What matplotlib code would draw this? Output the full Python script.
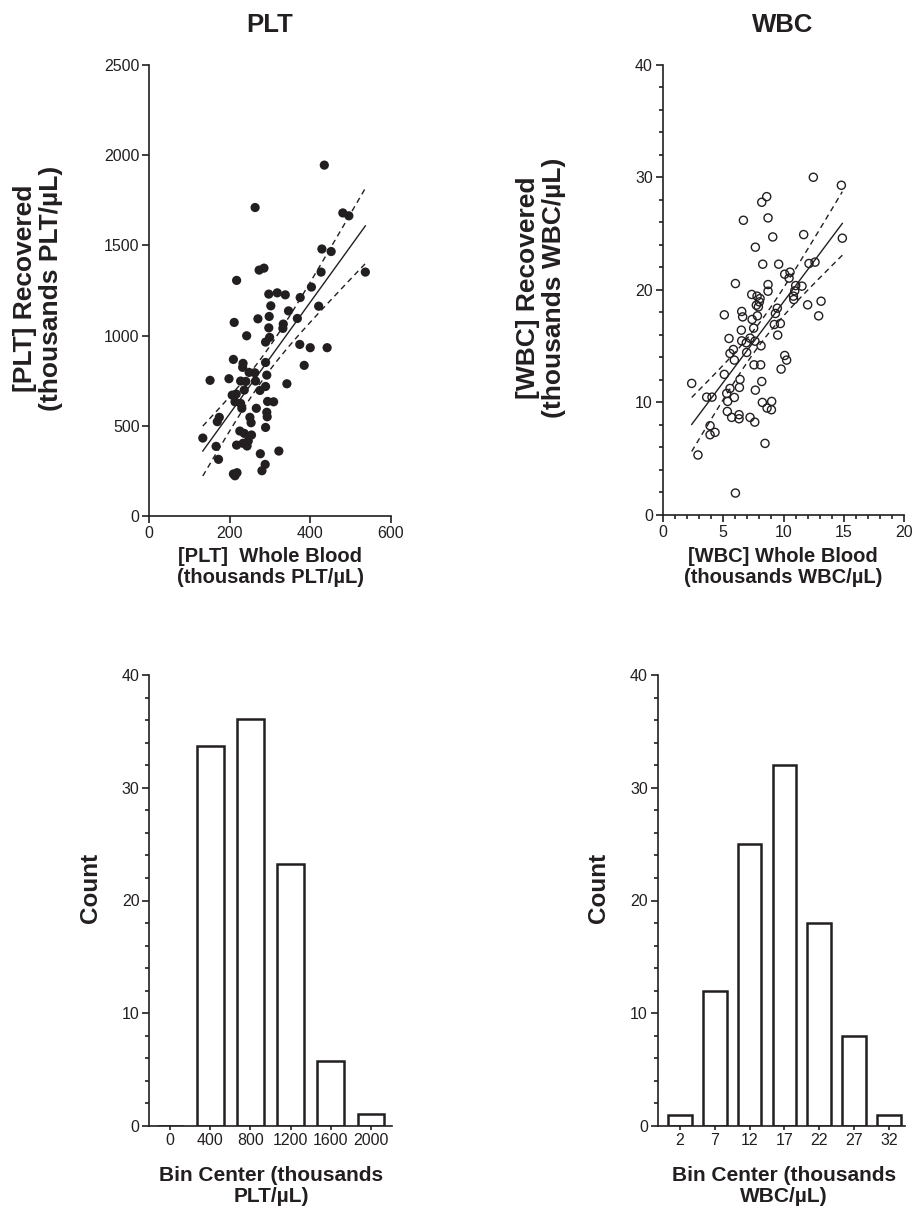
import numpy as np
import matplotlib
matplotlib.use('Agg')
import matplotlib.pyplot as plt
from matplotlib.ticker import MultipleLocator

plt.rcParams['font.family'] = ['Liberation Sans', 'DejaVu Sans']
INK = '#231f20'

# PLT: whole blood vs recovered (thousands/uL)
plt_wb = [435, 263, 481, 496, 429, 452, 537, 427, 273, 285, 217, 403, 297, 318, 338,
          375, 302, 421, 346, 270, 298, 368, 211, 333, 332, 297, 242, 299, 289, 374,
          400, 442, 209, 233, 232, 289, 385, 248, 262, 292, 151, 198, 227, 240, 264,
          289, 342, 206, 216, 236, 275, 213, 227, 230, 294, 309, 266, 292, 293, 174,
          169, 250, 253, 289, 133, 225, 236, 254, 246, 233, 217, 243, 166, 172, 276,
          322, 288, 280, 209, 218, 213]
plt_rec = [1945, 1710, 1680, 1664, 1480, 1466, 1352, 1352, 1363, 1374, 1306, 1269, 1230,
           1237, 1226, 1211, 1165, 1163, 1137, 1093, 1106, 1095, 1073, 1064, 1040, 1043,
           999, 990, 964, 951, 933, 933, 868, 846, 824, 851, 835, 796, 794, 781, 752,
           761, 748, 746, 748, 718, 733, 670, 676, 698, 696, 633, 624, 597, 635, 633,
           597, 575, 550, 547, 523, 547, 517, 491, 432, 471, 458, 449, 416, 403, 393,
           388, 386, 314, 345, 360, 286, 251, 233, 240, 223]

# WBC: whole blood vs recovered
wbc_wb = [12.47, 14.79, 8.61, 8.20, 6.68, 8.72, 9.11, 11.67, 14.87, 7.67, 8.28, 9.60,
          12.11, 12.61, 10.10, 10.54, 10.46, 6.02, 8.72, 8.72, 11.01, 11.53, 10.93, 7.37,
          7.81, 8.06, 8.00, 7.75, 7.92, 10.82, 10.85, 13.11, 12.00, 12.91, 5.10, 6.54,
          6.62, 9.49, 9.33, 7.40, 7.84, 9.24, 9.74, 9.52, 7.53, 6.51, 5.49, 6.54, 6.92,
          7.23, 7.64, 8.14, 5.85, 5.57, 5.93, 6.95, 7.56, 8.11, 10.10, 10.26, 9.80, 5.10,
          2.40, 6.40, 8.20, 5.57, 6.35, 7.67, 5.30, 3.64, 4.08, 5.93, 5.38, 8.25, 9.02,
          8.64, 9.00, 5.35, 5.71, 6.32, 6.32, 7.23, 7.62, 3.92, 3.92, 4.33, 8.47, 2.92,
          6.02]
wbc_rec = [30.0, 29.29, 28.28, 27.78, 26.18, 26.39, 24.70, 24.91, 24.59, 23.79, 22.28,
           22.28, 22.34, 22.46, 21.39, 21.57, 21.04, 20.56, 20.47, 19.88, 20.38, 20.33,
           19.91, 19.59, 19.44, 19.23, 18.93, 18.64, 18.49, 19.44, 19.14, 18.99, 18.67,
           17.69, 17.78, 18.08, 17.60, 18.37, 17.90, 17.37, 17.69, 16.92, 17.01, 15.98,
           16.60, 16.42, 15.68, 15.47, 15.30, 15.71, 15.44, 15.03, 14.70, 14.35, 13.76,
           14.44, 13.34, 13.34, 14.17, 13.76, 12.96, 12.49, 11.69, 12.04, 11.86, 11.24,
           11.33, 11.09, 10.80, 10.47, 10.47, 10.44, 10.09, 10.00, 10.09, 9.50, 9.35,
           9.20, 8.67, 8.91, 8.55, 8.67, 8.25, 7.93, 7.13, 7.34, 6.36, 5.33, 1.95]

# histograms
plt_bins = [0, 400, 800, 1200, 1600, 2000]
plt_counts = [0, 33.7, 36.1, 23.2, 5.8, 1.1]
wbc_bins = [2, 7, 12, 17, 22, 27, 32]
wbc_counts = [1, 12, 25, 32, 18, 8, 1]

W, H = 913, 1211
fig = plt.figure(figsize=(W / 100, H / 100), dpi=100)


def px_axes(x0, y0, x1, y1):
    return fig.add_axes([x0 / W, 1 - y1 / H, (x1 - x0) / W, (y1 - y0) / H])


def style(ax):
    for s in ['top', 'right']:
        ax.spines[s].set_visible(False)
    for s in ['left', 'bottom']:
        ax.spines[s].set_linewidth(1.2)
        ax.spines[s].set_color(INK)
    ax.tick_params(direction='out', length=5, width=1.2, colors=INK, labelsize=11.5, pad=2)
    ax.tick_params(which='minor', direction='out', length=3, width=1.2, colors=INK)


def fit_band(x, y):
    x = np.asarray(x, float)
    y = np.asarray(y, float)
    slope, icpt = np.polyfit(x, y, 1)
    xs = np.linspace(x.min(), x.max(), 100)
    n = len(x)
    s = np.sqrt(np.sum((y - (slope * x + icpt)) ** 2) / (n - 2))
    sxx = np.sum((x - x.mean()) ** 2)
    half = 1.987 * s * np.sqrt(1 / n + (xs - x.mean()) ** 2 / sxx)
    fit = slope * xs + icpt
    return xs, fit, fit - half, fit + half


def reg_lines(ax, x, y):
    xs, fit, lo, hi = fit_band(x, y)
    ax.plot(xs, fit, color=INK, lw=1.0)
    ax.plot(xs, lo, color=INK, lw=1.0, ls=(0, (4, 3)))
    ax.plot(xs, hi, color=INK, lw=1.0, ls=(0, (4, 3)))


# PLT scatter
ax1 = px_axes(149.3, 65, 390.7, 516)
reg_lines(ax1, plt_wb, plt_rec)
ax1.scatter(plt_wb, plt_rec, s=44, color=INK, edgecolors='none', zorder=3)
ax1.set_xlim(0, 600)
ax1.set_ylim(0, 2500)
ax1.set_xticks([0, 200, 400, 600])
ax1.set_yticks([0, 500, 1000, 1500, 2000, 2500])
style(ax1)

# WBC scatter
ax2 = px_axes(662.7, 64.7, 904.3, 515)
reg_lines(ax2, wbc_wb, wbc_rec)
ax2.scatter(wbc_wb, wbc_rec, s=34, facecolors='none', edgecolors=INK, linewidths=1.0, zorder=3)
ax2.set_xlim(0, 20)
ax2.set_ylim(0, 40)
ax2.set_xticks([0, 5, 10, 15, 20])
ax2.set_yticks([0, 10, 20, 30, 40])
ax2.xaxis.set_minor_locator(MultipleLocator(1))
ax2.yaxis.set_minor_locator(MultipleLocator(2))
style(ax2)

# PLT histogram
ax3 = px_axes(149.3, 675, 391.7, 1126)
ax3.bar(plt_bins, plt_counts, width=268, facecolor='white', edgecolor=INK, linewidth=1.8)
ax3.set_xlim(-206, 2206)
ax3.set_ylim(0, 40)
ax3.set_xticks(plt_bins)
ax3.set_yticks([0, 10, 20, 30, 40])
ax3.yaxis.set_minor_locator(MultipleLocator(2))
style(ax3)
ax3.tick_params(axis='x', length=3)

# WBC histogram
ax4 = px_axes(657.7, 675, 905, 1126)
ax4.bar(wbc_bins, wbc_counts, width=3.4, facecolor='white', edgecolor=INK, linewidth=1.8)
ax4.set_xlim(-1.2, 34.3)
ax4.set_ylim(0, 40)
ax4.set_xticks(wbc_bins)
ax4.set_yticks([0, 10, 20, 30, 40])
ax4.yaxis.set_minor_locator(MultipleLocator(2))
style(ax4)
ax4.tick_params(axis='x', length=3)

# titles and labels
bold = dict(fontweight='bold', color=INK, ha='center', va='center')
fig.text(270 / W, 1 - 24.7 / H, 'PLT', fontsize=18.5, **bold)
fig.text(783 / W, 1 - 24.7 / H, 'WBC', fontsize=18.5, **bold)

fig.text(38 / W, 1 - 288 / H, '[PLT] Recovered\n(thousands PLT/µL)', fontsize=19,
         rotation=90, linespacing=1.1, **bold)
fig.text(541 / W, 1 - 288 / H, '[WBC] Recovered\n(thousands WBC/µL)', fontsize=19,
         rotation=90, linespacing=1.1, **bold)

fig.text(270 / W, 1 - 567 / H, '[PLT]  Whole Blood\n(thousands PLT/µL)', fontsize=14.5,
         linespacing=1.15, **bold)
fig.text(783 / W, 1 - 567 / H, '[WBC] Whole Blood\n(thousands WBC/µL)', fontsize=14.5,
         linespacing=1.15, **bold)

fig.text(90 / W, 1 - 888 / H, 'Count', fontsize=17.5, rotation=90, **bold)
fig.text(598 / W, 1 - 888 / H, 'Count', fontsize=17.5, rotation=90, **bold)

fig.text(271 / W, 1 - 1186 / H, 'Bin Center (thousands\nPLT/µL)', fontsize=15,
         linespacing=1.15, **bold)
fig.text(783.7 / W, 1 - 1186 / H, 'Bin Center (thousands\nWBC/µL)', fontsize=15,
         linespacing=1.15, **bold)

fig.savefig('out.png', dpi=100)
